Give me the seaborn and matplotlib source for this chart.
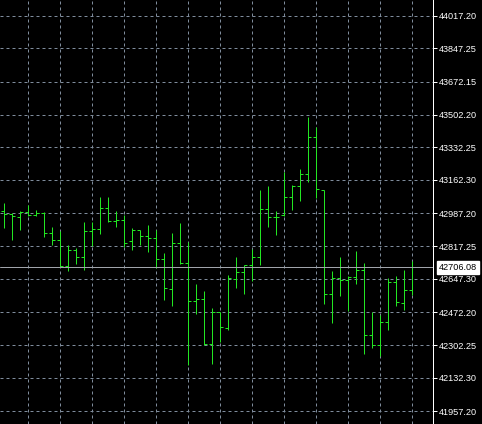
import matplotlib
matplotlib.use("Agg")
import numpy as np
import pandas as pd
import seaborn as sns
import matplotlib.pyplot as plt
import matplotlib.transforms as mtransforms

# OHLC (52 barras)
opens = [43001.1, 42983.8, 42968.2, 42994.2, 42978.6, 42990.7, 42884.9, 42848.5, 42713.3, 42796.5,
         42761.8, 42895.3, 42905.7, 43015.0, 42947.3, 42952.5, 42843.3, 42902.3, 42869.3, 42860.6,
         42749.7, 42593.6, 42832.9, 42728.9, 42529.4, 42541.6, 42305.8, 42475.7, 42389.0, 42645.6,
         42682.0, 42718.5, 42761.8, 43011.5, 42968.2, 42978.6, 43072.2, 43129.4, 43191.8, 43384.3,
         43108.6, 42567.6, 42650.8, 42642.2, 42656.0, 42692.4, 42354.3, 42302.3, 42423.7, 42630.0,
         42522.5, 42590.1]
highs = [43041.0, 42989.0, 43001.1, 43030.6, 43006.3, 42995.9, 42917.9, 42897.1, 42824.2, 42805.2,
         42943.9, 42942.1, 43072.2, 43073.9, 43001.1, 42980.3, 42912.7, 42902.3, 42926.5, 42902.3,
         42780.9, 42886.7, 42938.7, 42838.1, 42621.4, 42584.9, 42496.5, 42475.7, 42668.2, 42761.8,
         42720.2, 42801.7, 43110.3, 43131.1, 43001.1, 43205.7, 43134.6, 43219.6, 43490.1, 43438.1,
         43108.6, 42689.0, 42761.8, 42659.5, 42793.0, 42728.9, 42474.0, 42460.1, 42652.6, 42659.5,
         42694.2, 42741.0]
lows = [42909.2, 42850.2, 42902.3, 42971.6, 42971.6, 42862.4, 42820.8, 42711.5, 42689.0, 42725.4,
        42694.2, 42819.0, 42881.5, 42940.4, 42917.9, 42810.4, 42798.2, 42824.2, 42787.8, 42702.8,
        42538.1, 42503.4, 42723.7, 42196.5, 42461.8, 42304.0, 42205.2, 42319.6, 42378.6, 42600.5,
        42569.3, 42633.5, 42720.2, 42917.9, 42876.2, 42975.1, 43006.3, 43053.1, 43153.7, 43068.7,
        42513.8, 42415.0, 42558.9, 42477.4, 42617.9, 42253.7, 42285.0, 42246.8, 42378.6, 42503.4,
        42486.1, 42564.1]
closes = [42983.8, 42973.4, 42995.9, 42978.6, 42990.7, 42884.9, 42848.5, 42713.3, 42796.5, 42761.8,
          42895.3, 42905.7, 43015.0, 42947.3, 42952.5, 42832.9, 42902.3, 42869.3, 42857.2, 42749.7,
          42597.1, 42832.9, 42727.1, 42529.4, 42541.6, 42305.8, 42475.7, 42394.2, 42650.8, 42682.0,
          42718.5, 42761.8, 43011.5, 42966.4, 42968.2, 43072.2, 43129.4, 43191.8, 43384.3, 43117.3,
          42569.3, 42649.1, 42642.2, 42656.0, 42692.4, 42354.3, 42302.3, 42423.7, 42630.0, 42526.0,
          42590.1, 42706.08]

y_ticks = [44017.20, 43847.25, 43672.15, 43502.20, 43332.25, 43162.30, 42987.20,
           42817.25, 42647.30, 42472.20, 42302.25, 42132.30, 41957.20]
y_labels = ["44017.20", "43847.25", "43672.15", "43502.20", "43332.25", "43162.30", "42987.20",
            "42817.25", "42647.30", "42472.20", "42302.25", "42132.30", "41957.20"]
last_price = 42706.08

df = pd.DataFrame({"open": opens, "high": highs, "low": lows, "close": closes})
df["x"] = np.arange(len(df))

sns.set_theme(style="dark", rc={"axes.facecolor": "black", "figure.facecolor": "black"})
plt.rcParams["font.family"] = ["Liberation Sans", "DejaVu Sans"]

W, H = 482, 424
fig = plt.figure(figsize=(W / 100, H / 100), dpi=100)
plot_w = 433
ax = fig.add_axes([0, 0, plot_w / W, 1])
ax.set_facecolor("black")

bar_color = "#22e622"
grid_color = "#7f8c9c"
px = 0.72  # 1 pixel em pontos
tick_len = 3 / 8  # 3 pixels em unidades de barra

ax.vlines(df["x"], df["low"], df["high"], color=bar_color, lw=px)
ax.hlines(df["open"], df["x"] - tick_len, df["x"], color=bar_color, lw=px)
ax.hlines(df["close"], df["x"], df["x"] + tick_len, color=bar_color, lw=px)

# linha do preço atual
ax.axhline(last_price, color="#a0a4aa", lw=px, zorder=3)

ax.set_xlim(-3.5 / 8, (plot_w - 3.5) / 8)
scale = (y_ticks[0] - y_ticks[-1]) / (411.3 - 15.7)
ax.set_ylim(y_ticks[-1] - (H - 411.3) * scale, y_ticks[0] + 15.7 * scale)

ax.set_xticks(np.arange(3, len(df), 4))
ax.set_yticks(y_ticks)
ax.set_yticklabels(y_labels)
ax.yaxis.tick_right()
ax.grid(True, color=grid_color, lw=px, linestyle=(0, (3, 3)))
ax.set_axisbelow(True)

ax.tick_params(axis="x", length=0, labelbottom=False)
ax.tick_params(axis="y", colors="white", length=3, width=px, pad=1.5, labelsize=6.6, direction="out")

for side in ["top", "bottom", "left"]:
    ax.spines[side].set_visible(False)
ax.spines["right"].set_color("white")
ax.spines["right"].set_linewidth(px)

# rótulo do último preço
ax.annotate(f"{last_price:.2f}", xy=(1.0, last_price),
            xycoords=mtransforms.blended_transform_factory(ax.transAxes, ax.transData),
            xytext=(4.2, 0), textcoords="offset points", ha="left", va="center",
            fontsize=6.6, color="black",
            bbox=dict(boxstyle="square,pad=0.18", fc="white", ec="white"),
            annotation_clip=False, zorder=5)

fig.savefig("out.png", dpi=100, facecolor="black")
